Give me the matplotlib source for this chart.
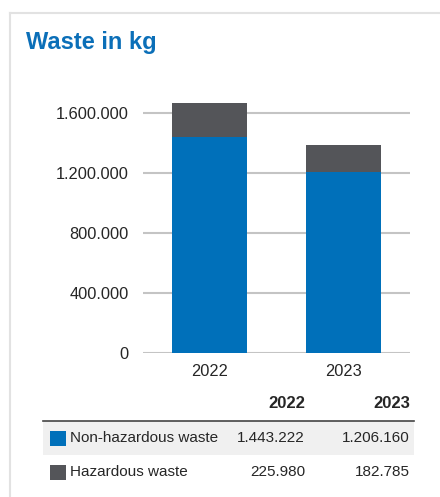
import matplotlib
matplotlib.use("Agg")
import matplotlib.pyplot as plt
from matplotlib.patches import Rectangle
from matplotlib.lines import Line2D

plt.rcParams["font.family"] = ["Liberation Sans", "DejaVu Sans"]

# ---------------------------------------------------------------------------
# Data
# ---------------------------------------------------------------------------
years = ["2022", "2023"]
non_hazardous = [1443222, 1206160]
hazardous = [225980, 182785]
series_labels = ["Non-hazardous waste", "Hazardous waste"]
y_ticks = [0, 400000, 800000, 1200000, 1600000]

BLUE = "#0070ba"
GRAY = "#545559"
TITLE_BLUE = "#0b6fb8"
TEXT = "#262626"


def fmt(v):
    return f"{v:,}".replace(",", ".")


W, H = 440, 497
fig = plt.figure(figsize=(W / 100, H / 100), dpi=100)

# card border (left and top edges)
fig.add_artist(Line2D([9.5 / W, 9.5 / W], [0, 1 - 13 / H], transform=fig.transFigure,
                      color="#e2e2e2", lw=1.5))
fig.add_artist(Line2D([9.5 / W, 1], [1 - 13 / H, 1 - 13 / H], transform=fig.transFigure,
                      color="#e2e2e2", lw=1.5))

fig.text(26 / W, 1 - 42 / H, "Waste in kg", color=TITLE_BLUE, fontsize=17,
         fontweight="bold", ha="left", va="center")

# ---------------------------------------------------------------------------
# Stacked bars
# ---------------------------------------------------------------------------
ax = fig.add_axes([143 / W, 144 / H, 267 / W, 255 / H])
x = range(len(years))
ax.bar(x, non_hazardous, width=0.565, color=BLUE, zorder=3)
ax.bar(x, hazardous, width=0.565, bottom=non_hazardous, color=GRAY, zorder=3)

ax.set_xlim(-0.5, 1.5)
ax.set_ylim(0, 1700000)
ax.set_yticks(y_ticks)
ax.set_yticklabels([fmt(v) for v in y_ticks])
ax.set_xticks(list(x))
ax.set_xticklabels(years)
ax.yaxis.grid(True, color="#c4c4c4", lw=1.5, zorder=0)
for s in ax.spines.values():
    s.set_visible(False)
ax.tick_params(axis="y", length=0, pad=10.5, labelsize=11.8, labelcolor=TEXT)
ax.tick_params(axis="x", length=0, pad=8, labelsize=11.8, labelcolor=TEXT)

# ---------------------------------------------------------------------------
# Data table with legend swatches
# ---------------------------------------------------------------------------
def fy(py):
    return 1 - py / H


col_right = [305 / W, 410 / W]
for xr, yr in zip(col_right, years):
    fig.text(xr, fy(404), yr, fontsize=12, fontweight="bold", color=TEXT,
             ha="right", va="center")

fig.add_artist(Rectangle((43 / W, fy(455)), (414 - 43) / W, 34 / H,
                         transform=fig.transFigure, color="#f0f0f0", lw=0))
fig.add_artist(Line2D([43 / W, 414 / W], [fy(420.5), fy(420.5)],
                      transform=fig.transFigure, color="#444444", lw=1.2))

row_y = [438, 472.5]
row_colors = [BLUE, GRAY]
row_vals = [non_hazardous, hazardous]
for ry, col, lab, vals in zip(row_y, row_colors, series_labels, row_vals):
    fig.add_artist(Rectangle((50 / W, fy(ry + 7.5)), 16 / W, 15 / H,
                             transform=fig.transFigure, color=col, lw=0))
    fig.text(70 / W, fy(ry), lab, fontsize=11, color=TEXT, ha="left", va="center")
    for xr, v in zip(col_right, vals):
        fig.text(xr, fy(ry), fmt(v), fontsize=11, color=TEXT, ha="right", va="center")

fig.savefig("out.png", dpi=100)
